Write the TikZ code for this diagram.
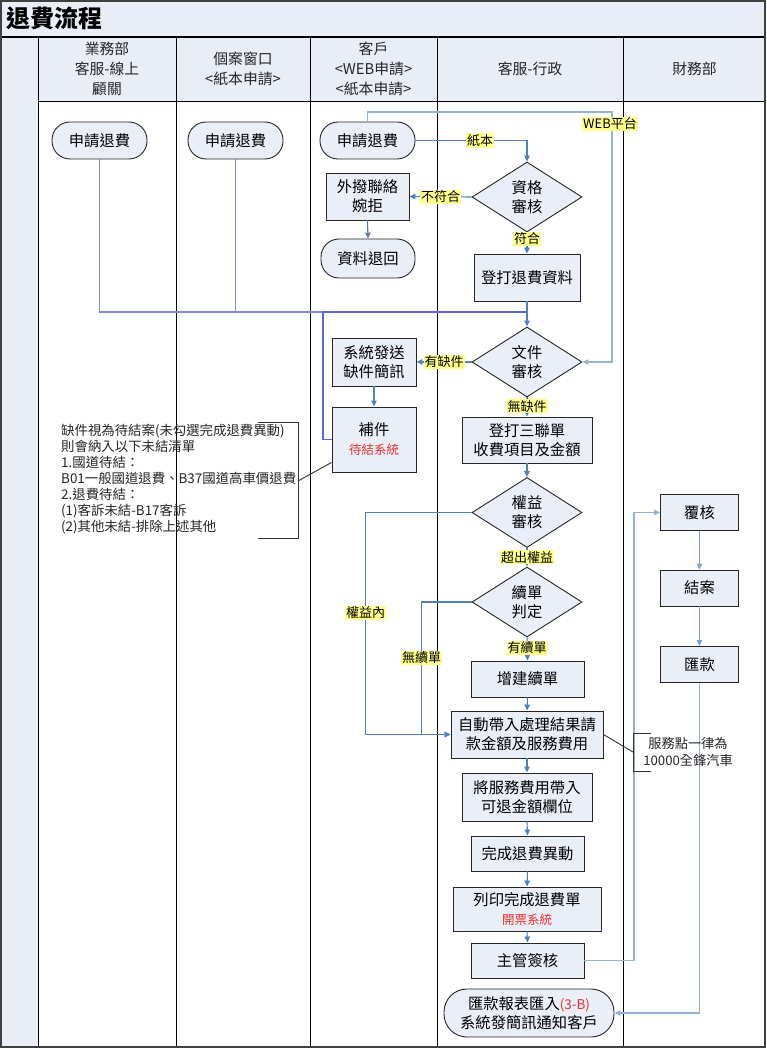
\documentclass[tikz,border=0pt]{standalone}
\usepackage{fontspec}
\setmainfont{Noto Sans CJK TC}
\usetikzlibrary{shapes.geometric,arrows.meta}
\definecolor{nodefill}{HTML}{E9EEF7}
\definecolor{lanefill}{HTML}{E8EDF6}
\definecolor{flow}{HTML}{4F81BD}
\definecolor{flowlt}{HTML}{95B3D7}
\definecolor{flowmid}{HTML}{7E9ED4}
\definecolor{flowpu}{HTML}{5A68D8}
\definecolor{flowgr}{HTML}{7F8CC8}
\definecolor{hl}{HTML}{FFFF8C}
\definecolor{redtxt}{HTML}{F03030}
\definecolor{framecol}{HTML}{404040}
\newcommand{\rtxt}[1]{{\color{redtxt}\fontsize{12.5}{14}\selectfont #1}}
\tikzset{
  box/.style={draw=black!85, line width=0.9pt, fill=nodefill, align=center, inner sep=0pt, font=\fontsize{15.3}{19}\selectfont},
  proc/.style={box, rectangle},
  term/.style={box, rectangle, rounded corners=18pt},
  dec/.style={box, diamond, minimum width=110pt, minimum height=70pt},
  conn/.style={draw=flow, line width=1.1pt, -{Triangle[length=6pt,width=5.5pt]}},
  plain/.style={draw=flow, line width=1.1pt},
  lbl/.style={fill=hl, inner sep=1pt, font=\fontsize{13}{14}\selectfont},
  hdr/.style={align=center, font=\fontsize{14.8}{20}\selectfont, text=black!85},
  lane/.style={draw=black, line width=1pt},
  brk/.style={draw=black!80, line width=0.9pt}
}
\begin{document}
\begin{tikzpicture}[x=1pt,y=-1pt]
\useasboundingbox (0,0) rectangle (766,1048);
\fill[white] (0,0) rectangle (766,1048);
% bands
\fill[lanefill] (0,0) rectangle (766,102);
\fill[lanefill] (0,37) rectangle (38,1046);
% lane lines
\draw[lane] (38,102) -- (766,102);
\foreach \xx in {38,176,310,437,623} { \draw[lane] (\xx,37) -- (\xx,1046); }
\draw[draw=black, line width=2.2pt] (0,37) -- (766,37);
\draw[draw=framecol, line width=2pt] (1,1) rectangle (765,1046.5);
% title
\node[anchor=west, font=\bfseries\fontsize{24}{26}\selectfont, inner sep=0] (title) at (6,18) {退費流程};
% headers
\node[hdr] (h1) at (107,68.5) {業務部\\客服-線上\\顧關};
\node[hdr] (h2) at (243,68.5) {個案窗口\\<紙本申請>};
\node[hdr] (h3) at (373.5,68.5) {客戶\\<WEB申請>\\<紙本申請>};
\node[hdr] (h4) at (530,68.5) {客服-行政};
\node[hdr] (h5) at (694.5,68.5) {財務部};

% nodes
\node[term, minimum width=95pt, minimum height=37pt] (s1) at (99.5,140.5) {申請退費};
\node[term, minimum width=95pt, minimum height=37pt] (s2) at (235.5,140.5) {申請退費};
\node[term, minimum width=95pt, minimum height=37pt] (s3) at (367.5,140.5) {申請退費};
\node[proc, minimum width=83pt, minimum height=47pt] (x1) at (367.5,196.5) {外撥聯絡\\婉拒};
\node[term, minimum width=94pt, minimum height=39pt] (x2) at (368,258.5) {資料退回};
\node[dec] (q1) at (527,197) {資格\\審核};
\node[proc, minimum width=106pt, minimum height=47pt] (d1) at (527,277.5) {登打退費資料};
\node[dec] (q2) at (527,362) {文件\\審核};
\node[proc, minimum width=84pt, minimum height=48pt] (m1) at (374,362) {系統發送\\缺件簡訊};
\node[proc, minimum width=84pt, minimum height=65pt] (b1) at (374,439.5) {補件\\\rtxt{待結系統}};
\node[proc, minimum width=130pt, minimum height=46pt] (t1) at (527,440) {登打三聯單\\收費項目及金額};
\node[dec] (q3) at (527,512.5) {權益\\審核};
\node[dec] (q4) at (527,602) {續單\\判定};
\node[proc, minimum width=113pt, minimum height=36pt] (c1) at (527.5,679) {增建續單};
\node[proc, minimum width=152pt, minimum height=47pt] (a1) at (527,734.5) {自動帶入處理結果請\\款金額及服務費用};
\node[proc, minimum width=130pt, minimum height=48pt] (a2) at (527,797) {將服務費用帶入\\可退金額欄位};
\node[proc, minimum width=113pt, minimum height=35pt] (a3) at (527.5,853.5) {完成退費異動};
\node[proc, minimum width=148pt, minimum height=44pt] (a4) at (527,909) {列印完成退費單\\\rtxt{開票系統}};
\node[proc, minimum width=113pt, minimum height=35pt] (a5) at (527.5,960.5) {主管簽核};
\node[term, minimum width=170pt, minimum height=48pt, rounded corners=23pt] (e1) at (529,1013) {匯款報表匯入{\color{redtxt}\fontsize{13.5}{15}\selectfont(3-B)}\\系統發簡訊通知客戶};
\node[proc, minimum width=78pt, minimum height=36pt] (f1) at (699.5,512.5) {覆核};
\node[proc, minimum width=78pt, minimum height=36pt] (f2) at (699.5,588) {結案};
\node[proc, minimum width=78pt, minimum height=36pt] (f3) at (699.5,664.5) {匯款};

% coordinates
\coordinate (join) at (527,312);
\coordinate (loopc) at (323,312);
\coordinate (webtop) at (612,112);

% connectors
\draw[plain, draw=flowgr] (s1.south) |- (join);
\draw[plain, draw=flowgr] (s2.south) |- (join);
\draw[plain, draw=flowpu] (b1.west) -| (loopc) -- (join);
\draw[conn] (s3.east) -| node[lbl, pos=0.29] {紙本} (q1.north);
\draw[conn, draw=flowlt] (s3.north) |- (webtop) |- (q2.east);
\node[lbl] (weblbl) at (610,124) {WEB平台};
\draw[conn] (q1.west) -- node[lbl, pos=0.5] {不符合} (x1.east);
\draw[conn] (x1.south) -- (x2.north);
\draw[conn] (q1.south) -- node[lbl, pos=0.3] {符合} (d1.north);
\draw[conn] (d1.south) -- (q2.north);
\draw[conn] (q2.west) -- node[lbl, pos=0.5] {有缺件} (m1.east);
\draw[conn] (m1.south) -- (b1.north);
\draw[conn] (q2.south) -- node[lbl, pos=0.45] {無缺件} (t1.north);
\draw[conn] (t1.south) -- (q3.north);
\draw[conn] (q3.south) -- node[lbl, pos=0.49] {超出權益} (q4.north);
\draw[conn] (q4.south) -- node[lbl, pos=0.46] {有續單} (c1.north);
\draw[conn] (q3.west) -- ++(-106,0) |- node[lbl, pos=0.226] {權益內} (a1.west);
\draw[conn] (q4.west) -- ++(-50,0) |- node[lbl, pos=0.21] {無續單} (a1.west);
\draw[conn] (c1.south) -- (a1.north);
\draw[conn] (a1.south) -- (a2.north);
\draw[conn] (a2.south) -- (a3.north);
\draw[conn] (a3.south) -- (a4.north);
\draw[conn] (a4.south) -- (a5.north);
\draw[conn, draw=flowlt] (a5.east) -- ++(49.5,0) |- (f1.west);
\draw[conn, draw=flowmid] (f1.south) -- (f2.north);
\draw[conn, draw=flowmid] (f2.south) -- (f3.north);
\draw[conn, draw=flowlt] (f3.south) |- (e1.east);

% annotation 1
\node[anchor=north west, align=left, inner sep=0, font=\fontsize{13.4}{16}\selectfont, text=black!85] (note1) at (61,423.5) {缺件視為待結案(未勾選完成退費異動)\\則會納入以下未結清單\\1.國道待結：\\B01一般國道退費、B37國道高車價退費\\2.退費待結：\\(1)客訴未結-B17客訴\\(2)其他未結-排除上述其他};
\draw[brk] (258,422) -- (298,422) -- (298,538) -- (258,538);
\coordinate (br1) at (298,481);
\draw[brk] (br1) -- ([yshift=10pt]b1.south west);

% annotation 2
\node[align=center, inner sep=0, font=\fontsize{13.2}{17}\selectfont, text=black!85] (note2) at (688,751.5) {服務點一律為\\10000全鋒汽車};
\draw[brk] (651,733) -- (633,733) -- (633,771) -- (651,771);
\coordinate (br2) at (633,752);
\draw[brk] (a1.east) -- (br2);
\end{tikzpicture}
\end{document}
